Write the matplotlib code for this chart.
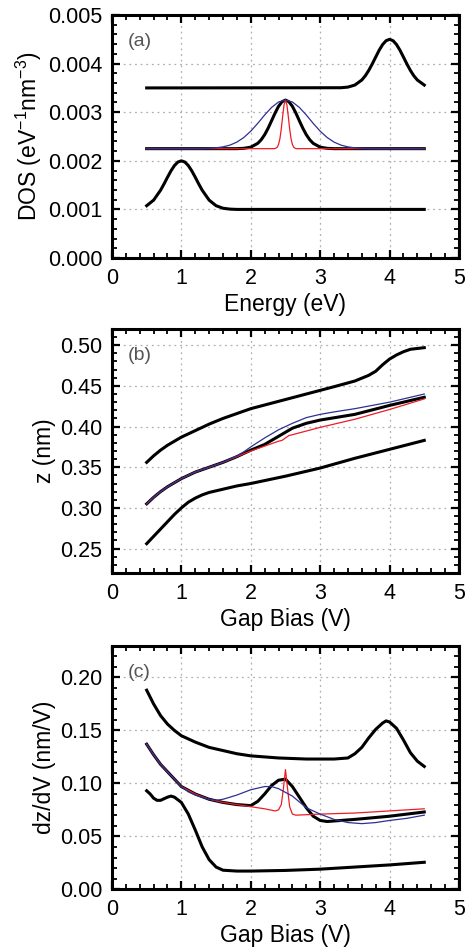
import matplotlib
matplotlib.use("Agg")
import matplotlib.pyplot as plt
from matplotlib.ticker import MultipleLocator, FormatStrFormatter

plt.rcParams['font.family'] = ['Liberation Sans', 'DejaVu Sans']
plt.rcParams['mathtext.default'] = 'regular'

BLUE = '#2E3192'
RED = '#ED1C24'

# ---- panel (a): DOS vs energy ----
a_low_x = [0.5, 0.6, 0.7, 0.75, 0.8, 0.85, 0.9, 0.95, 1.0, 1.05, 1.1, 1.15, 1.2, 1.25, 1.3, 1.4, 1.5, 1.6, 1.7, 1.8, 4.5]
a_low_y = [0.001076, 0.001191, 0.001395, 0.001524, 0.001662, 0.001793, 0.001902, 0.001975, 0.002, 0.001975,
           0.001902, 0.001793, 0.001662, 0.001524, 0.001395, 0.001191, 0.001076, 0.001024, 0.001006, 0.001, 0.001]

a_high_x = [0.5, 3.3, 3.4, 3.5, 3.6, 3.65, 3.7, 3.75, 3.8, 3.85, 3.9, 3.95, 4.0, 4.05, 4.1, 4.15, 4.2, 4.25, 4.3, 4.35, 4.4, 4.5]
a_high_y = [0.0035, 0.003504, 0.003517, 0.003559, 0.003663, 0.003749, 0.00386, 0.003992, 0.004135, 0.004275,
            0.004393, 0.004472, 0.0045, 0.004472, 0.004393, 0.004275, 0.004135, 0.003992, 0.00386, 0.003749,
            0.003663, 0.003559]

a_mid_x = [0.5, 1.8, 1.9, 2.0, 2.1, 2.15, 2.2, 2.25, 2.3, 2.35, 2.4, 2.45, 2.5, 2.55, 2.6, 2.65, 2.7, 2.75,
           2.8, 2.85, 2.9, 3.0, 3.1, 3.2, 4.5]
a_mid_y = [0.00225, 0.00225, 0.002257, 0.002281, 0.002359, 0.002433, 0.002537, 0.002671, 0.002825, 0.002982,
           0.003121, 0.003216, 0.00325, 0.003216, 0.003121, 0.002982, 0.002825, 0.002671, 0.002537, 0.002433,
           0.002359, 0.002281, 0.002257, 0.00225, 0.00225]

a_wide_x = [0.5, 1.2, 1.3, 1.4, 1.5, 1.6, 1.7, 1.8, 1.9, 2.0, 2.1, 2.2, 2.3, 2.4, 2.5, 2.6, 2.7, 2.8, 2.9,
            3.0, 3.1, 3.2, 3.3, 3.4, 3.5, 3.6, 3.7, 3.8, 4.5]
a_wide_y = [0.00225, 0.00225, 0.002253, 0.002257, 0.002267, 0.002287, 0.002323, 0.002385, 0.00248, 0.00261,
            0.00277, 0.002943, 0.003099, 0.00321, 0.00325, 0.00321, 0.003099, 0.002943, 0.00277, 0.00261,
            0.00248, 0.002385, 0.002323, 0.002287, 0.002267, 0.002257, 0.002253, 0.00225, 0.00225]

a_sharp_x = [0.5, 2.34, 2.36, 2.38, 2.40, 2.42, 2.44, 2.46, 2.48, 2.50, 2.52, 2.54, 2.56, 2.58, 2.60, 2.62,
             2.64, 2.66, 4.5]
a_sharp_y = [0.00225, 0.00225, 0.002258, 0.002278, 0.002335, 0.002456, 0.002661, 0.002924, 0.003156, 0.00325,
             0.003156, 0.002924, 0.002661, 0.002456, 0.002335, 0.002278, 0.002258, 0.00225, 0.00225]

# ---- panel (b): z vs gap bias ----
b_top_x = [0.5, 0.6, 0.7, 0.8, 0.9, 1.0, 1.2, 1.4, 1.6, 1.8, 2.0, 2.4, 2.8, 3.2, 3.5, 3.7, 3.8, 3.9, 4.0,
           4.1, 4.2, 4.3, 4.4, 4.5]
b_top_y = [0.356, 0.364, 0.371, 0.377, 0.382, 0.387, 0.395, 0.403, 0.410, 0.416, 0.422, 0.431, 0.440, 0.449,
           0.456, 0.463, 0.468, 0.476, 0.483, 0.488, 0.492, 0.495, 0.496, 0.497]

b_low_x = [0.5, 0.6, 0.7, 0.8, 0.9, 1.0, 1.1, 1.2, 1.3, 1.4, 1.6, 1.8, 2.0, 2.5, 3.0, 3.5, 4.0, 4.5]
b_low_y = [0.256, 0.265, 0.274, 0.283, 0.292, 0.300, 0.307, 0.312, 0.316, 0.319, 0.323, 0.327, 0.330, 0.339,
           0.349, 0.361, 0.372, 0.383]

b_mid_x = [0.5, 0.6, 0.7, 0.8, 0.9, 1.0, 1.1, 1.2, 1.4, 1.6, 1.8, 2.0, 2.2, 2.4, 2.5, 2.6, 2.8, 3.0, 3.5, 4.0, 4.5]
b_mid_y = [0.305, 0.313, 0.320, 0.326, 0.331, 0.336, 0.340, 0.344, 0.350, 0.356, 0.363, 0.371, 0.378, 0.388,
           0.393, 0.398, 0.404, 0.408, 0.415, 0.426, 0.436]

b_wide_x = [0.5, 0.6, 0.7, 0.8, 0.9, 1.0, 1.1, 1.2, 1.4, 1.6, 1.8, 1.9, 2.0, 2.2, 2.4, 2.6, 2.8, 3.0, 3.2, 3.5, 4.0, 4.5]
b_wide_y = [0.305, 0.313, 0.320, 0.326, 0.331, 0.336, 0.340, 0.344, 0.350, 0.356, 0.364, 0.369, 0.375, 0.386,
            0.396, 0.404, 0.411, 0.415, 0.418, 0.422, 0.430, 0.440]

b_sharp_x = [0.5, 0.6, 0.7, 0.8, 0.9, 1.0, 1.1, 1.2, 1.4, 1.6, 1.8, 2.0, 2.2, 2.4, 2.45, 2.5, 2.55, 2.6,
             3.0, 3.5, 4.0, 4.5]
b_sharp_y = [0.305, 0.313, 0.320, 0.326, 0.331, 0.336, 0.340, 0.344, 0.350, 0.356, 0.363, 0.370, 0.376, 0.382,
             0.383, 0.386, 0.389, 0.390, 0.399, 0.409, 0.421, 0.434]

# ---- panel (c): dz/dV vs gap bias ----
c_top_x = [0.5, 0.6, 0.7, 0.8, 0.9, 1.0, 1.2, 1.4, 1.6, 1.8, 2.0, 2.4, 2.8, 3.2, 3.4, 3.5, 3.6, 3.7, 3.8,
           3.9, 3.95, 4.0, 4.1, 4.2, 4.3, 4.4, 4.5]
c_top_y = [0.188, 0.175, 0.164, 0.156, 0.150, 0.145, 0.139, 0.134, 0.131, 0.128, 0.126, 0.124, 0.123, 0.123,
           0.124, 0.128, 0.134, 0.143, 0.151, 0.157, 0.159, 0.158, 0.152, 0.141, 0.129, 0.121, 0.116]

c_low_x = [0.5, 0.55, 0.6, 0.65, 0.7, 0.8, 0.85, 0.9, 1.0, 1.1, 1.2, 1.3, 1.4, 1.5, 1.6, 1.8, 2.0, 2.5,
           3.0, 3.5, 4.0, 4.5]
c_low_y = [0.093, 0.090, 0.086, 0.084, 0.084, 0.087, 0.088, 0.087, 0.082, 0.071, 0.056, 0.040, 0.028, 0.021,
           0.018, 0.0172, 0.0172, 0.0178, 0.019, 0.021, 0.023, 0.0255]

c_mid_x = [0.5, 0.6, 0.7, 0.8, 0.9, 1.0, 1.2, 1.4, 1.6, 1.8, 2.0, 2.1, 2.2, 2.3, 2.4, 2.5, 2.6, 2.7, 2.8,
           2.9, 3.0, 3.1, 3.5, 4.0, 4.5]
c_mid_y = [0.137, 0.127, 0.118, 0.111, 0.104, 0.097, 0.090, 0.085, 0.082, 0.080, 0.079, 0.083, 0.090, 0.098,
           0.103, 0.104, 0.097, 0.087, 0.077, 0.069, 0.065, 0.064, 0.066, 0.069, 0.073]

c_wide_x = [0.5, 0.6, 0.7, 0.8, 0.9, 1.0, 1.1, 1.2, 1.3, 1.4, 1.5, 1.6, 1.8, 2.0, 2.2, 2.3, 2.4, 2.6, 2.8,
            3.0, 3.2, 3.4, 3.6, 3.8, 4.0, 4.25, 4.5]
c_wide_y = [0.137, 0.127, 0.118, 0.111, 0.104, 0.097, 0.092, 0.089, 0.087, 0.085, 0.084, 0.085, 0.089, 0.094,
            0.097, 0.097, 0.095, 0.088, 0.077, 0.071, 0.066, 0.063, 0.062, 0.063, 0.065, 0.067, 0.070]

c_sharp_x = [0.5, 0.6, 0.7, 0.8, 0.9, 1.0, 1.2, 1.4, 1.6, 1.8, 2.0, 2.2, 2.35, 2.40, 2.44, 2.47, 2.50, 2.53,
             2.56, 2.60, 2.65, 3.0, 3.5, 4.0, 4.5]
c_sharp_y = [0.137, 0.127, 0.118, 0.111, 0.104, 0.097, 0.090, 0.085, 0.082, 0.080, 0.078, 0.076, 0.074, 0.075,
             0.080, 0.095, 0.113, 0.095, 0.078, 0.071, 0.070, 0.071, 0.072, 0.074, 0.076]

panels = [
    ("(a)", [(a_low_x, a_low_y), (a_high_x, a_high_y), (a_mid_x, a_mid_y)], (a_sharp_x, a_sharp_y),
     (a_wide_x, a_wide_y), (0, 0.005), 0.001, 0.0002, '%.3f', 'DOS (eV$^{-1}$nm$^{-3}$)', 'Energy (eV)'),
    ("(b)", [(b_top_x, b_top_y), (b_low_x, b_low_y), (b_mid_x, b_mid_y)], (b_sharp_x, b_sharp_y),
     (b_wide_x, b_wide_y), (0.22, 0.52), 0.05, 0.01, '%.2f', 'z (nm)', 'Gap Bias (V)'),
    ("(c)", [(c_top_x, c_top_y), (c_low_x, c_low_y), (c_mid_x, c_mid_y)], (c_sharp_x, c_sharp_y),
     (c_wide_x, c_wide_y), (0, 0.23), 0.05, 0.01, '%.2f', 'dz/dV (nm/V)', 'Gap Bias (V)'),
]
rects = [[0.2403, 0.7287, 0.7446, 0.2555],
         [0.2403, 0.3975, 0.7446, 0.2566],
         [0.2403, 0.0649, 0.7446, 0.2561]]

fig = plt.figure(figsize=(4.66, 9.51), dpi=100)

for rect, (tag, blacks, sharp, wide, ylim, ymaj, ymin, fmt, ylab, xlab) in zip(rects, panels):
    ax = fig.add_axes(rect)
    for xs, ys in blacks:
        ax.plot(xs, ys, color='black', lw=2.2, zorder=3)
    ax.plot(sharp[0], sharp[1], color=RED, lw=0.9, zorder=4)
    ax.plot(wide[0], wide[1], color=BLUE, lw=0.9, zorder=5)

    ax.set_xlim(0, 5)
    ax.set_ylim(*ylim)
    ax.xaxis.set_major_locator(MultipleLocator(1))
    ax.xaxis.set_minor_locator(MultipleLocator(0.2))
    ax.yaxis.set_major_locator(MultipleLocator(ymaj))
    ax.yaxis.set_minor_locator(MultipleLocator(ymin))
    ax.yaxis.set_major_formatter(FormatStrFormatter(fmt))
    ax.grid(True, which='major', color='#b0b0b0', linestyle=(0, (1.5, 3)), lw=0.9, zorder=0)
    ax.tick_params(which='both', direction='in', top=True, right=True, labelsize=15.5, pad=7)
    ax.tick_params(which='major', length=6, width=1.6)
    ax.tick_params(which='minor', length=3.5, width=1.3)
    for sp in ax.spines.values():
        sp.set_linewidth(2.2)
    ax.set_xlabel(xlab, fontsize=16.5, labelpad=3)
    ax.set_ylabel(ylab, fontsize=16.5, labelpad=3)
    ax.text(0.046, 0.89, tag, transform=ax.transAxes, fontsize=14, color='#555555', va='center', ha='left')

fig.savefig('out.png', dpi=100)
